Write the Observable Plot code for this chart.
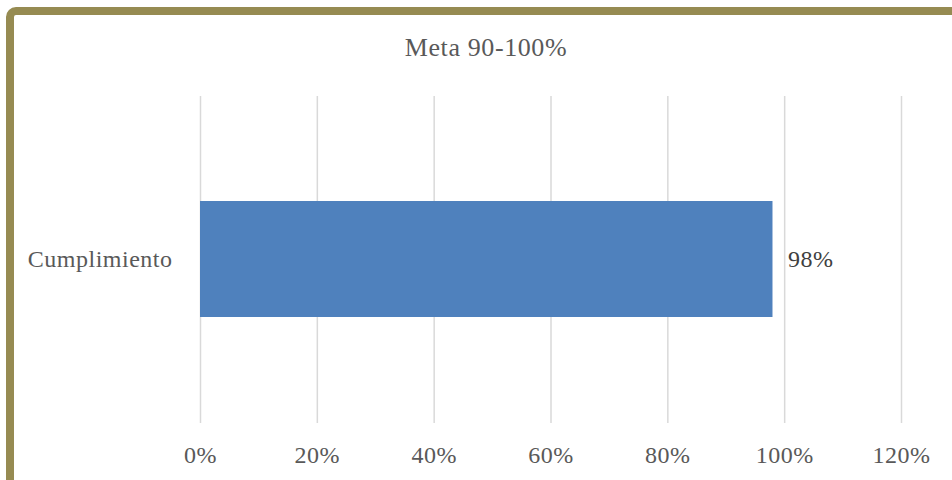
<!DOCTYPE html>
<html>
<head>
<meta charset="utf-8">
<script src="https://cdn.jsdelivr.net/npm/d3@7"></script>
<script src="https://cdn.jsdelivr.net/npm/@observablehq/plot@0.6"></script>
<style>
  html, body { margin: 0; padding: 0; background: #fff; }
  #wrap { position: relative; width: 952px; height: 480px; overflow: hidden; background: #fff; }
  #frame { position: absolute; left: 6px; top: 7px; width: 1000px; height: 600px;
           border: 8px solid #968b52; border-radius: 10px; box-sizing: border-box; }
  #title { position: absolute; left: 0; width: 972px; top: 30px; text-align: center;
           font-family: "Liberation Serif", serif; font-size: 26px; color: #595959; line-height: 36px;
           letter-spacing: 0.6px; }
  #chart { position: absolute; left: 0; top: 0; }
  #chart svg text { letter-spacing: 0.5px; }
</style>
</head>
<body>
<div id="wrap">
  <div id="frame"></div>
  <div id="chart"></div>
  <div id="title"></div>
</div>
<script>
const title = "Meta 90-100%";
const categories = ["Cumplimiento"];
const values = [0.98];
const valueLabels = ["98%"];
const tickValues = [0, 0.2, 0.4, 0.6, 0.8, 1.0, 1.2];
const tickLabels = ["0%", "20%", "40%", "60%", "80%", "100%", "120%"];

document.getElementById("title").textContent = title;

const data = categories.map((c, i) => ({category: c, value: values[i], label: valueLabels[i]}));

const chart = Plot.plot({
  width: 952,
  height: 480,
  marginLeft: 200,
  marginRight: 51,
  marginTop: 96,
  marginBottom: 57,
  style: {fontFamily: "Liberation Serif, serif", fontSize: "24px", color: "#595959", background: "transparent"},
  x: {domain: [0, 1.2], label: null},
  y: {domain: categories, padding: 0.473, label: null},
  marks: [
    Plot.gridX(tickValues, {stroke: "#d9d9d9", strokeOpacity: 1, strokeWidth: 1.5}),
    Plot.barX(data, {x: "value", y: "category", fill: "#4f81bd"}),
    Plot.text(data, {x: "value", y: "category", text: "label", textAnchor: "start", dx: 15, fill: "#404040", fontSize: 24}),
    Plot.axisX(tickValues, {tickSize: 0, tickPadding: 22, fill: "#595959", fontSize: 24, label: null, tickFormat: (d, i) => tickLabels[i]}),
    Plot.axisY(categories, {tickSize: 0, tickPadding: 28, fill: "#595959", fontSize: 24, label: null})
  ]
});
document.getElementById("chart").appendChild(chart);
</script>
</body>
</html>
